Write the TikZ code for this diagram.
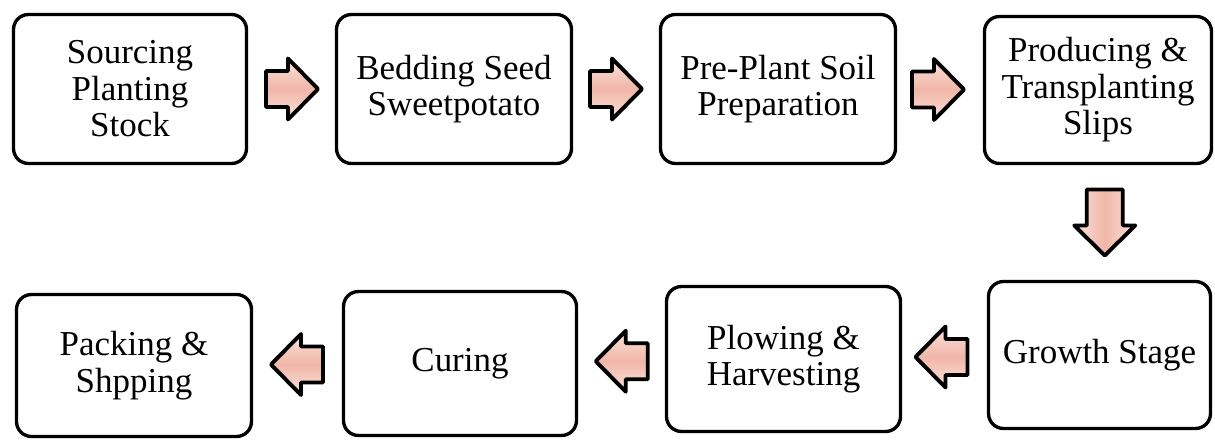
\documentclass[tikz,border=0pt]{standalone}
\usepackage{fontspec}
\setmainfont{Liberation Serif}
\usepackage{tikz}
\usetikzlibrary{calc}
\definecolor{arrowpink}{RGB}{240,182,168}
\definecolor{arrowlight}{RGB}{251,226,219}
\tikzset{
  stagebox/.style={rectangle,draw,line width=1.9pt,rounded corners=0.3cm,
                   align=center,inner sep=2pt,
                   font=\fontsize{19.9}{20.8}\selectfont},
  arrowbody/.style={draw=black,line width=2.2pt,line join=round},
  hshade/.style={top color=arrowlight,bottom color=arrowlight,middle color=arrowpink},
  vshade/.style={left color=arrowlight,right color=arrowlight,middle color=arrowpink},
}
\begin{document}
\begin{tikzpicture}
  \useasboundingbox (0,0) rectangle (24.3,8.8);
  %% Top row
  \node[stagebox,minimum width=4.66cm,minimum height=2.98cm] (source)  at (2.6,7.02)
    {Sourcing\\Planting\\Stock};
  \node[stagebox,minimum width=4.7cm,minimum height=2.98cm] (bedding) at (9.08,7.02)
    {Bedding Seed\\Sweetpotato};
  \node[stagebox,minimum width=4.7cm,minimum height=2.98cm] (soil)    at (15.56,7.02)
    {Pre-Plant Soil\\Preparation};
  \node[stagebox,minimum width=4.54cm,minimum height=2.94cm] (slips)  at (21.96,7.0)
    {Producing \&\\Transplanting\\Slips};
  %% Bottom row
  \node[stagebox,minimum width=4.44cm,minimum height=2.94cm] (growth)  at (21.99,1.7)
    {Growth Stage};
  \node[stagebox,minimum width=4.68cm,minimum height=2.9cm] (harvest)  at (15.67,1.62)
    {Plowing \&\\Harvesting};
  \node[stagebox,minimum width=4.66cm,minimum height=2.88cm] (curing)  at (9.2,1.53)
    {Curing};
  \node[stagebox,minimum width=4.7cm,minimum height=2.84cm] (packing)  at (2.68,1.49)
    {Packing \&\\Shpping};
  %% Block arrows
  \foreach \a/\b/\r/\l/\s/\dx in {source/bedding/0/0.52/hshade/0,
      bedding/soil/0/0.52/hshade/0, soil/slips/0/0.52/hshade/0,
      slips/growth/-90/0.66/vshade/0.12, growth/harvest/180/0.52/hshade/0,
      harvest/curing/180/0.52/hshade/0, curing/packing/180/0.52/hshade/0}{
    \begin{scope}[shift={($(\a)!0.5!(\b)+(\dx,0)$)},rotate=\r]
      \path[arrowbody,\s] (-\l,-0.36) -- ({\l-0.6},-0.36) -- ({\l-0.6},-0.61)
        -- (\l,0) -- ({\l-0.6},0.61) -- ({\l-0.6},0.36) -- (-\l,0.36) -- cycle;
    \end{scope}
  }
\end{tikzpicture}
\end{document}
